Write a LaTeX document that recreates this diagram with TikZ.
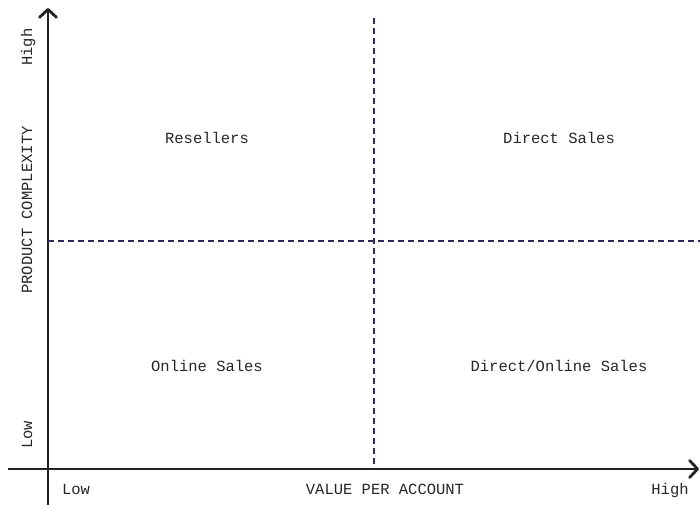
\documentclass[tikz,border=0pt]{standalone}
\usepackage{fontspec}
\setmonofont{Liberation Mono}
\usetikzlibrary{arrows.meta}
\definecolor{axisgray}{HTML}{222222}
\definecolor{dashnavy}{HTML}{2B2B5E}
\definecolor{labelgray}{HTML}{262626}
\tikzset{
  axis/.style={line width=2.8pt,axisgray,-{Straight Barb[length=8pt,width=17pt,line cap=round,line join=round]}},
  divider/.style={line width=1.4pt,dashnavy,dash pattern=on 6pt off 4pt},
  quad/.style={text=labelgray,font=\fontsize{15.5}{18}\selectfont\ttfamily,inner sep=0pt},
  ylab/.style={quad,rotate=90}
}
\begin{document}
\begin{tikzpicture}[x=1pt,y=-1pt, line join=round]
			\useasboundingbox (0,0) rectangle (700,505);
			% axes
			\coordinate (xstart) at (8,469);
			\coordinate (xend) at (699,469);
			\coordinate (ystart) at (48,505);
			\coordinate (yend) at (48,8);
			\draw[axis](xstart)--(xend);
			\draw[axis](ystart)--(yend);
			% quadrant dividers
			\coordinate (vtop) at (374,18);
			\coordinate (vbot) at (374,469);
			\coordinate (hleft) at (48,241);
			\coordinate (hright) at (700,241);
			\draw[divider](vtop)--(vbot);
			\draw[divider](hleft)--(hright);
			% quadrant labels
			\node[quad] (resellers) at (207,138) {Resellers};
			\node[quad] (direct) at (559,138) {Direct Sales};
			\node[quad] (online) at (207,366) {Online Sales};
			\node[quad] (directonline) at (559,366) {Direct/Online Sales};
			% axis labels
			\node[ylab,anchor=base] (yhigh) at (32,47) {High};
			\node[ylab,anchor=base] (yname) at (32,210) {PRODUCT COMPLEXITY};
			\node[ylab,anchor=base] (ylow) at (32,435) {Low};
			\node[quad,anchor=base] (xlow) at (76,494) {Low};
			\node[quad,anchor=base] (xname) at (385,494) {VALUE PER ACCOUNT};
			\node[quad,anchor=base] (xhigh) at (670,494) {High};
\end{tikzpicture}
\end{document}
